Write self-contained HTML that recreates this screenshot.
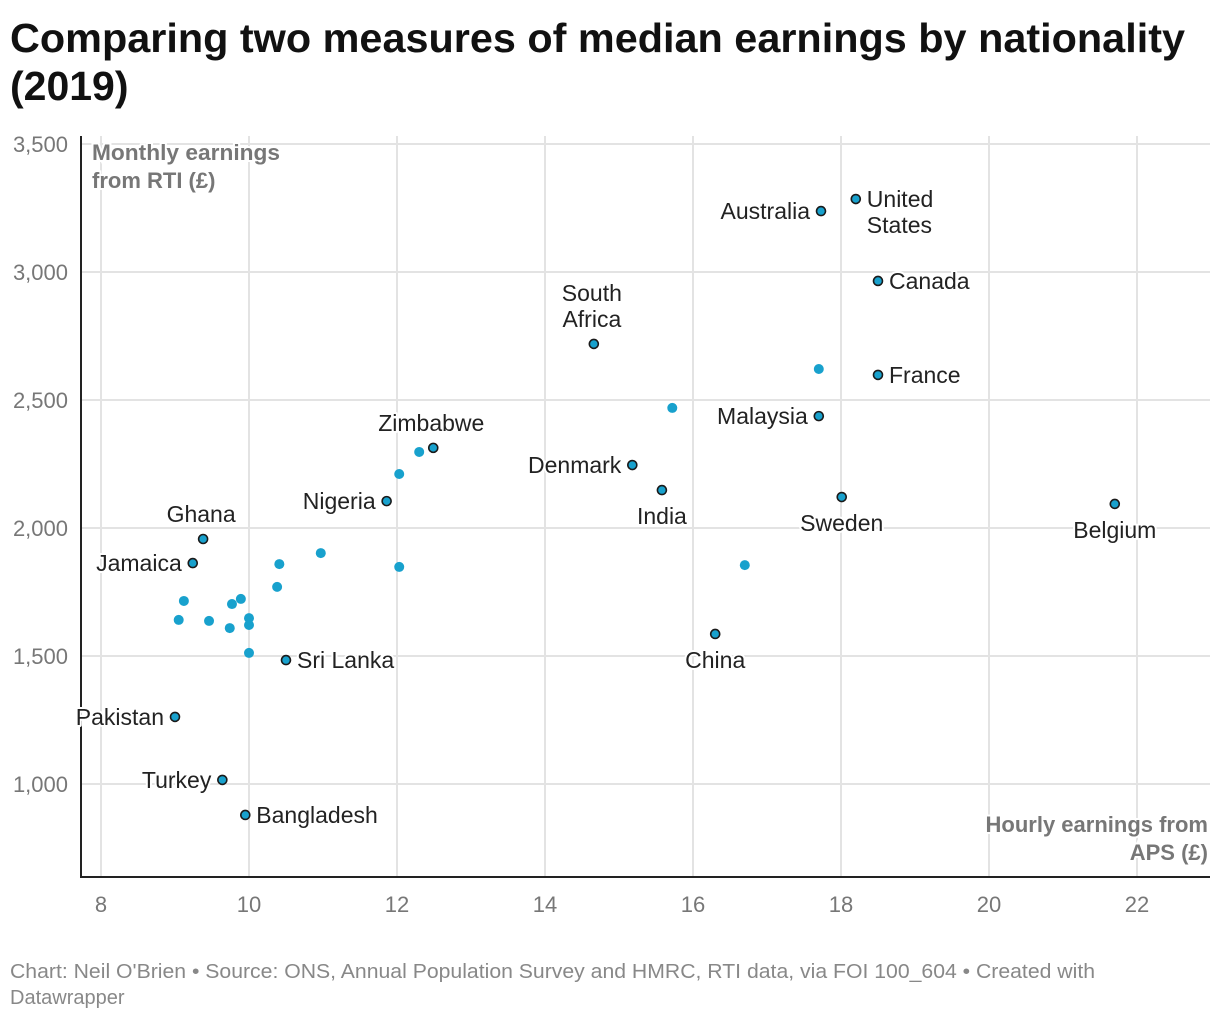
<!DOCTYPE html>
<html><head><meta charset="utf-8"><style>
html,body{margin:0;padding:0;background:#fff;}
svg{display:block;font-family:"Liberation Sans",sans-serif;}
.lbl{font-size:23px;fill:#222;stroke:#fff;stroke-width:4px;paint-order:stroke;stroke-linejoin:round;}
.tick{font-size:22px;fill:#777;}
.at{font-size:22px;font-weight:bold;fill:#777;stroke:#fff;stroke-width:4px;paint-order:stroke;}
</style></head><body>
<svg id="chart" width="1220" height="1020" viewBox="0 0 1220 1020">
<text x="10" y="52" font-size="41" font-weight="bold" fill="#111" textLength="1175" lengthAdjust="spacingAndGlyphs">Comparing two measures of median earnings by nationality</text>
<text x="10" y="100" font-size="41" font-weight="bold" fill="#111">(2019)</text>
<g id="grid"></g>
<g id="axes"></g>
<g id="pts"></g>
<g id="labels"></g>
<text class="at" x="92" y="160" textLength="188" lengthAdjust="spacingAndGlyphs">Monthly earnings</text>
<text class="at" x="92" y="188">from RTI (£)</text>
<text class="at" x="1208" y="832" text-anchor="end">Hourly earnings from</text>
<text class="at" x="1208" y="860" text-anchor="end">APS (£)</text>
<text x="10" y="978" font-size="20" fill="#888" textLength="1085" lengthAdjust="spacingAndGlyphs">Chart: Neil O'Brien • Source: ONS, Annual Population Survey and HMRC, RTI data, via FOI 100_604 • Created with</text>
<text x="10" y="1004" font-size="20" fill="#888">Datawrapper</text>
</svg>
<script>
const xTicks = [8,10,12,14,16,18,20,22];
const yTicks = [1000,1500,2000,2500,3000,3500];
const yTickLabels = ["1,000","1,500","2,000","2,500","3,000","3,500"];
const names = ["Australia","United States","Canada","South Africa","France","Malaysia","Zimbabwe","Denmark","India","Nigeria","Sweden","Belgium","Ghana","Jamaica","China","Sri Lanka","Pakistan","Turkey","Bangladesh"];
const hourly = [17.73,18.20,18.50,14.66,18.50,17.70,12.49,15.18,15.58,11.86,18.01,21.70,9.38,9.24,16.30,10.50,9.00,9.64,9.95];
const monthly = [3238,3285,2965,2719,2598,2437,2313,2246,2148,2105,2121,2094,1957,1863,1586,1484,1262,1016,879];
const labelPos = ["l","r","r","t","r","l","t","l","b","l","b","b","t","l","b","r","l","l","r"];
const otherHourly = [17.70,15.72,12.30,12.03,10.97,10.41,12.03,16.70,10.38,9.12,9.89,9.77,9.05,9.46,10.0,9.74,10.0,10.0];
const otherMonthly = [2621,2469,2297,2211,1902,1859,1848,1855,1770,1715,1723,1703,1641,1637,1648,1609,1621,1512];

const NS="http://www.w3.org/2000/svg";
const X = v => 101 + (v-8)*74;
const Y = v => 784 - (v-1000)*0.256;
function mk(tag, attrs, parent){const e=document.createElementNS(NS,tag);for(const k in attrs)e.setAttribute(k,attrs[k]);parent.appendChild(e);return e;}
const grid=document.getElementById('grid'), axes=document.getElementById('axes'), pts=document.getElementById('pts'), lab=document.getElementById('labels');
xTicks.forEach(t=>{
  const l=mk('line',{x1:X(t),x2:X(t),y1:136,y2:877,stroke:'#e3e3e3','stroke-width':2},grid);
  
  
  const tx=mk('text',{x:X(t),y:912,'text-anchor':'middle',class:'tick'},axes);tx.textContent=t;
  
  
});
yTicks.forEach((t,i)=>{
  const l=mk('line',{x1:80,x2:1210,y1:Y(t),y2:Y(t),stroke:'#e3e3e3','stroke-width':2},grid);
  
  
  const tx=mk('text',{x:68,y:Y(t)+8,'text-anchor':'end',class:'tick'},axes);tx.textContent=yTickLabels[i];
  
  
});
const ya=mk('line',{x1:81,x2:81,y1:136,y2:878,stroke:'#222','stroke-width':2},axes);


const xa=mk('line',{x1:80,x2:1210,y1:877,y2:877,stroke:'#222','stroke-width':2},axes);


otherHourly.forEach((h,i)=>{
  const c=mk('circle',{cx:X(h),cy:Y(otherMonthly[i]),r:5,fill:'#18a1cd'},pts);
  
  
});
names.forEach((n,i)=>{
  const cx=X(hourly[i]), cy=Y(monthly[i]);
  const c=mk('circle',{cx:cx,cy:cy,r:4.5,fill:'#18a1cd',stroke:'#1a1a1a','stroke-width':1.6},pts);
  
  
  const p=labelPos[i];
  const lines = n==="United States"?["United","States"]:n==="South Africa"?["South","Africa"]:[n];
  lines.forEach((s,j)=>{
    let x=cx,y=cy,anchor='middle';
    if(p==='l'){x=cx-11;anchor='end';y=cy+j*26;}
    else if(p==='r'){x=cx+11;anchor='start';y=cy+j*26;}
    else if(p==='t'){y=cy-25-(lines.length-1-j)*26;x=cx-2;}
    else {y=cy+26+j*26;}
    const t=mk('text',{x:x,y:y+8,'text-anchor':anchor,class:'lbl'},lab);
    t.textContent=s;
    
    
  });
});
</script>
</body></html>
